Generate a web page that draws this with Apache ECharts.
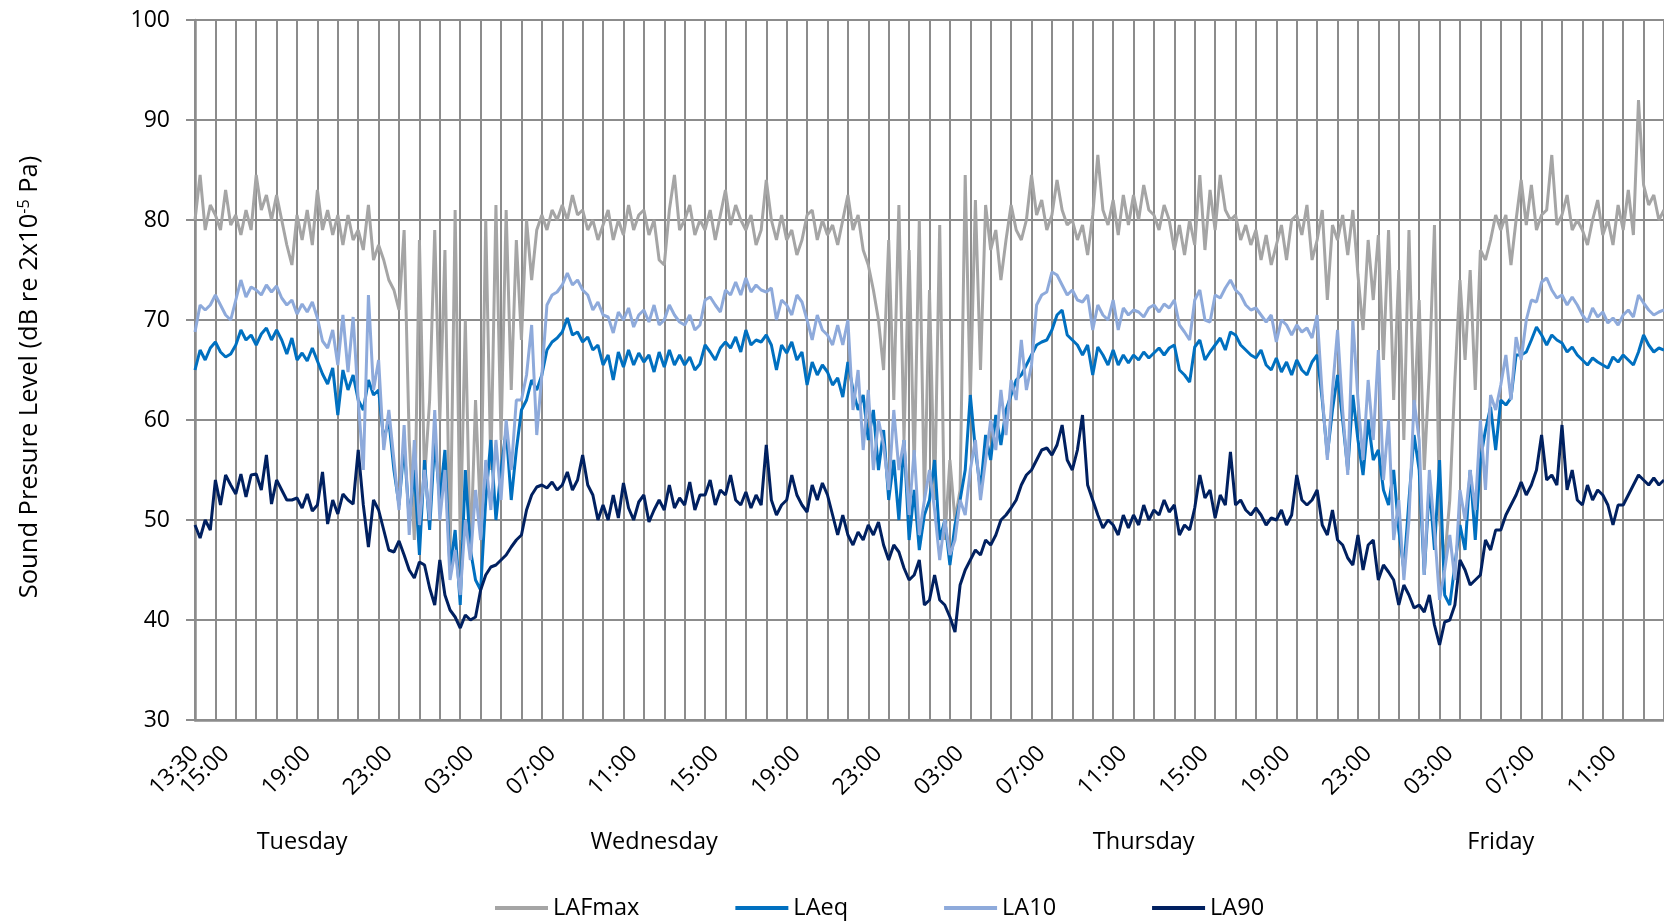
<!DOCTYPE html>
<html><head><meta charset="utf-8">
<script src="https://cdn.jsdelivr.net/npm/echarts@6/dist/echarts.min.js"></script>
<style>html,body{margin:0;padding:0;background:#fff}#chart{width:1664px;height:922px}</style>
</head><body><div id="chart"></div>
<script>
// ---- time axis: 15-minute samples from Tuesday 13:30 ----
const startDayIndex = 0;               // index into dayShort
const startMinutes = 13 * 60 + 30;     // 13:30
const stepMinutes = 15;
const pointCount = 289;
const dayShort = ['Tue', 'Wed', 'Thu', 'Fri'];

// tick labels shown on the time axis (the first category is labelled as well)
const tickLabels = ['03:00', '07:00', '11:00', '15:00', '19:00', '23:00'];
// day labels under the time axis
const dayLabels = ['Tuesday', 'Wednesday', 'Thursday', 'Friday'];
const dayLabelAt = ['Tue 18:45', 'Wed 12:00', 'Thu 12:00', 'Fri 05:30'];

const seriesNames = ['LAFmax', 'LAeq', 'LA10', 'LA90'];

const LAFmax = [
  80, 84.5, 79, 81.5,  80.5, 79, 83, 79.5,  80.5, 78.5, 81, 79,  84.5, 81, 82.5, 80,
  82.5, 80, 77.5, 75.5,  80.5, 78, 81, 77.5,  83, 79, 81, 78.5,  80.5, 77.5, 80.5, 78,
  79, 77, 81.5, 76,  77.5, 76, 74, 73,  71, 79, 58, 48,  78, 54, 62, 79,
  60, 77, 46, 81,  48, 70, 46, 62,  50, 80, 55, 81.5,  58, 81, 63, 78,
  68, 80, 74, 79,  80.5, 79, 81, 80,  81.5, 80, 82.5, 80.5,  81, 79, 80, 78,
  79.5, 81, 78, 80,  78.5, 81.5, 79, 80.5,  81, 78.5, 80, 76,  75.5, 81, 84.5, 79,
  80, 81.5, 78.5, 80,  79, 81, 78, 80.5,  83, 79.5, 81.5, 80,  79, 80.5, 77.5, 79,
  84, 80, 78, 80.5,  78, 79, 76.5, 78,  80.5, 81, 78, 80,  78.5, 79.5, 77.5, 80,
  82.5, 79, 80.5, 77,  75.5, 73, 70, 65,  78, 62, 81.5, 58,  77, 55, 80, 52,
  73, 52, 79.5, 48,  56, 50, 53, 84.5,  62, 82, 65, 81.5,  77, 79, 74, 78,
  81.5, 79, 78, 80,  84.5, 80.5, 82, 79,  80.5, 84, 81, 79.5,  80, 78, 79.5, 76.5,
  80.5, 86.5, 81, 79.5,  82, 78.5, 82.5, 79.5,  82.5, 80, 83.5, 81,  80.5, 79, 81.5, 80,
  77, 79.5, 76.5, 80,  77.5, 84.5, 77, 83,  79, 84.5, 81, 80,  80.5, 78, 79.5, 77.5,
  79, 76, 78.5, 75.5,  77.5, 79.5, 76, 80,  80.5, 78.5, 81.5, 76,  78, 81, 72, 79.5,
  78, 80.5, 76.5, 81,  74.5, 69, 78, 72,  78.5, 66, 79, 62,  75, 58, 79, 60,
  72, 55, 65, 79.5,  50, 46, 52, 64,  74, 66, 75, 63,  77, 76, 78, 80.5,
  79, 80.5, 75.5, 80,  84, 79.5, 83.5, 79,  80.5, 81, 86.5, 79.5,  80.5, 82.5, 79, 80,
  79, 77.5, 80, 82,  78.5, 80, 77.5, 81.5,  79, 83, 78.5, 92,  83.5, 81.5, 82.5, 80,
  81
];

const LAeq = [
  65, 67, 66, 67.2,  67.8, 66.8, 66.3, 66.6,  67.5, 69, 68, 68.5,  67.5, 68.6, 69.2, 68,
  69, 68, 66.6, 68.2,  66, 66.7, 65.9, 67.2,  65.9, 64.6, 63.6, 65.2,  60.5, 65, 63, 64.5,
  62, 61, 64, 62.5,  63, 58, 60, 55,  51.5, 57.5, 50, 55,  46.5, 56, 49, 58,
  52, 57, 45, 49,  41.5, 55, 47, 44,  43, 52, 58, 50,  55, 59, 52, 57,
  61, 62, 64, 63,  64.5, 67, 67.8, 68.2,  68.8, 70.2, 68.5, 68.8,  67.8, 68.3, 67, 67.5,
  65.5, 66.5, 64, 66.8,  65.3, 67, 65.5, 66.7,  65.8, 66.5, 64.8, 66.8,  65.3, 67, 65.5, 66.5,
  65.5, 66.3, 65, 65.6,  67.5, 66.8, 66, 67.2,  67.8, 67.2, 68.3, 66.8,  69, 67.5, 68, 67.8,
  68.5, 67.5, 65, 67.5,  66.7, 67.8, 66, 66.8,  63.5, 65.8, 64.5, 65.5,  64.8, 63.5, 64.2, 62.3,
  65.8, 63, 61, 62.5,  58, 61, 55, 59,  52, 56, 50, 58,  48, 53, 47, 50.5,
  52, 56, 48, 50,  45.5, 49.5, 52, 55,  62.5, 57, 53, 58.5,  56, 60.5, 57.5, 61,
  62.5, 64, 64.5, 65.5,  66.5, 67.5, 67.8, 68,  69, 70.5, 71, 68.5,  68, 67.5, 66.5, 67.5,
  64.5, 67.3, 66.5, 65.5,  67, 65.5, 66.5, 65.7,  66.5, 66, 66.8, 66.2,  66.7, 67.2, 66.5, 67.2,
  67.5, 65, 64.5, 63.8,  67.3, 68, 66, 66.8,  67.5, 68.2, 67, 68.8,  68.5, 67.5, 67, 66.5,
  66.2, 67, 65.5, 65,  66.2, 64.8, 65.8, 64.5,  66, 65, 64.5, 65.8,  66.5, 62, 56.5, 61,
  64.5, 60, 55, 62.5,  58, 54.5, 60, 56,  57, 53, 51.5, 55,  49, 45, 52, 58.5,
  55, 44.5, 53.5, 47,  56, 42.5, 41.5, 45.5,  49.5, 47, 55, 48,  56, 59, 61.3, 57,
  62, 61.5, 62.2, 66.5,  66.5, 66.8, 68, 69.3,  68.5, 67.5, 68.5, 68,  67.7, 66.8, 67.3, 66.5,
  66, 65.5, 66.2, 65.8,  65.5, 65.2, 66.3, 65.8,  66.5, 66, 65.5, 66.8,  68.5, 67.5, 66.8, 67.2,
  67
];

const LA10 = [
  68.8, 71.5, 71, 71.5,  72.5, 71.5, 70.5, 70,  72, 74, 72.3, 73.3,  73, 72.5, 73.5, 72.8,
  73.4, 72.2, 71.5, 72,  70.6, 71.6, 70.8, 71.8,  70.2, 67.9, 67.2, 69,  65.5, 70.5, 64.8, 70.3,
  62, 55, 72.5, 63,  66, 57, 61, 56,  51, 59.5, 48.5, 58,  49.5, 55, 50, 61,
  50, 55, 44, 47,  42.5, 50, 46, 53,  48, 56, 51, 58,  52, 60, 55, 62,
  62, 64.5, 69.5, 58.5,  64.5, 71.5, 72.5, 72.8,  73.5, 74.7, 73.5, 74,  73, 72.5, 71, 71.8,
  70.5, 70.3, 68.7, 70.8,  70, 71.2, 69.3, 70.5,  71, 69.8, 71.5, 69.5,  70, 71.5, 70.5, 69.8,
  69.5, 70.5, 69, 69.5,  72, 72.3, 71.5, 70.8,  73, 72.5, 73.8, 72.5,  74.2, 72.8, 73.5, 73,
  72.8, 73.2, 70, 72,  71.5, 70.5, 72.5, 71.8,  70, 68, 70.5, 69,  68.5, 67.5, 69.5, 67.5,
  70, 61, 65, 57,  63, 55, 60, 57.5,  53, 61, 55, 58,  50.5, 57, 48.5, 52,
  55, 51, 46, 50,  46.5, 48, 52, 50.5,  55, 58, 52, 56,  60, 57, 63, 58.5,
  64, 62, 68, 63,  65.5, 71.5, 72.5, 72.8,  74.8, 74.5, 73.5, 72.5,  73, 72, 71.8, 72.5,
  69, 71.5, 70.5, 70,  72, 69, 71.2, 70.5,  71, 70.8, 70.3, 71.2,  71.5, 70.8, 71.6, 71.2,
  72, 69.5, 68.8, 68,  72, 73, 70, 69.8,  72.5, 72.2, 73.2, 74,  73, 72.5, 71.5, 71,
  71.2, 70.5, 69.8, 70.5,  67.8, 70, 69.5, 68.5,  69.5, 68.8, 69.2, 68.2,  70.5, 62.5, 56, 63,
  69, 61, 54.5, 70,  62, 56, 64, 58,  67, 54, 60, 48,  52, 44, 50, 62,
  58, 44.5, 55, 49,  42, 45, 48.5, 44,  53, 50, 55, 51,  60, 53, 62.5, 61,
  63.5, 66.5, 62, 68.3,  66, 70, 72, 71.8,  73.8, 74.2, 73, 72.2,  72.5, 71.5, 72.3, 71.5,
  70.5, 69.8, 71.2, 70.3,  70.8, 69.7, 70.2, 69.5,  70.5, 71, 70.3, 72.5,  71.7, 71, 70.5, 70.8,
  71
];

const LA90 = [
  49.5, 48.2, 50, 49,  54, 51.5, 54.5, 53.5,  52.6, 54.6, 52.3, 54.5,  54.6, 53, 56.5, 51.6,
  54, 53, 52, 52,  52.2, 51.2, 52.6, 50.9,  51.5, 54.8, 49.6, 52,  50.6, 52.6, 52, 51.6,
  57, 51.5, 47.3, 52,  51, 49, 47, 46.8,  47.9, 46.5, 45, 44.2,  45.8, 45.5, 43.2, 41.5,
  46, 42.5, 41, 40.3,  39.2, 40.5, 40, 40.3,  43, 44.5, 45.3, 45.5,  46, 46.5, 47.3, 48,
  48.5, 51, 52.5, 53.3,  53.5, 53.2, 53.8, 53,  53.5, 54.8, 53, 54,  56.5, 53.5, 52.5, 50,
  51.5, 50, 52.5, 50.2,  53.7, 51.2, 50, 51.8,  52.5, 49.8, 51, 52,  51, 53.5, 51.2, 52.2,
  51.5, 53.8, 51, 52.5,  52.5, 54, 51.5, 53,  52.5, 54.5, 52, 51.5,  52.8, 51.2, 52.5, 51.5,
  57.5, 52, 50.5, 51.5,  52, 54.5, 52.5, 51.5,  50.8, 53.5, 52, 53.7,  52.5, 50.5, 48.5, 50.5,
  48.5, 47.5, 48.8, 48,  49.5, 48.5, 49.8, 47.5,  46, 47.5, 46.8, 45.2,  44, 44.5, 46, 41.5,
  42, 44.5, 42, 41.5,  40.3, 38.8, 43.5, 45,  46, 47, 46.5, 48,  47.5, 48.5, 50, 50.5,
  51.2, 52, 53.5, 54.5,  55, 56, 57, 57.2,  56.5, 57.5, 59.5, 56,  55, 57, 60.5, 53.5,
  52, 50.5, 49.2, 50,  49.5, 48.5, 50.5, 49.2,  50.5, 49.5, 51.5, 50,  51, 50.5, 52, 50.8,
  51.5, 48.5, 49.5, 49,  51.2, 54.5, 52.2, 53,  50.2, 52.5, 51.5, 56.8,  51.5, 52, 51, 50.5,
  51.2, 50.5, 49.5, 50.2,  50, 51, 49.5, 50.5,  54.5, 52, 51.5, 52,  53, 49.5, 48.5, 51,
  48, 47.5, 46.2, 45.5,  48.5, 45, 47.5, 48,  44, 45.5, 44.8, 44,  41.5, 43.5, 42.5, 41.2,
  41.5, 40.8, 42.5, 39.5,  37.5, 39.8, 40, 41.5,  46, 45, 43.5, 44,  44.5, 48, 47, 49,
  49, 50.5, 51.5, 52.5,  53.8, 52.5, 53.5, 55,  58.5, 54, 54.5, 53.5,  59.5, 53, 55, 52,
  51.5, 53.5, 52, 53,  52.5, 51.5, 49.5, 51.5,  51.5, 52.5, 53.5, 54.5,  54, 53.5, 54.2, 53.5,
  54
];

// ---- build category labels ("Tue 13:30", ...) ----
const pad = n => (n < 10 ? '0' : '') + n;
const categories = [];
for (let i = 0; i < pointCount; i++) {
  const total = startMinutes + i * stepMinutes;
  const day = startDayIndex + Math.floor(total / 1440);
  const m = total % 1440;
  categories.push(dayShort[day] + ' ' + pad(Math.floor(m / 60)) + ':' + pad(m % 60));
}

const FONT = 'Open Sans';
const GRIDC = '#8c8c8c';
const colors = { LAFmax: '#a5a5a5', LAeq: '#0070c0', LA10: '#8eaadb', LA90: '#002060' };
const values = { LAFmax, LAeq, LA10, LA90 };

const timeLabelStyle = { rotate: 45, margin: 30, fontFamily: FONT, fontSize: 23, color: '#000',
  hideOverlap: false, formatter: v => v.slice(4) };

const chart = echarts.init(document.getElementById('chart'), null, { renderer: 'canvas' });
chart.setOption({
  animation: false,
  backgroundColor: '#ffffff',
  textStyle: { fontFamily: FONT },
  grid: { left: 195, top: 20, width: 1475, height: 700, containLabel: false },
  legend: {
    data: seriesNames,
    left: 490, top: 891,
    icon: 'rect', itemWidth: 53, itemHeight: 4, itemGap: 96,
    textStyle: { fontFamily: FONT, fontSize: 23.5, color: '#000' }
  },
  xAxis: [
    {
      type: 'category', data: categories, boundaryGap: false,
      axisLine: { show: true, lineStyle: { color: GRIDC, width: 2.5 } },
      axisTick: { show: false },
      splitLine: { show: true, interval: (i) => i % 4 === 0, lineStyle: { color: GRIDC, width: 2 } },
      axisLabel: Object.assign({}, timeLabelStyle, {
        interval: (i, v) => i > 0 && tickLabels.indexOf(v.slice(4)) >= 0
      })
    },
    {
      // start-time label only
      type: 'category', data: categories, boundaryGap: false, position: 'bottom',
      axisLine: { show: false }, axisTick: { show: false }, splitLine: { show: false },
      axisLabel: Object.assign({}, timeLabelStyle, { showMinLabel: true, interval: (i) => i === 0 })
    },
    {
      type: 'category', data: categories, boundaryGap: false, position: 'bottom',
      axisLine: { show: false }, axisTick: { show: false }, splitLine: { show: false },
      axisLabel: {
        interval: (i, v) => dayLabelAt.indexOf(v) >= 0,
        formatter: v => dayLabels[dayLabelAt.indexOf(v)],
        margin: 110, fontFamily: FONT, fontSize: 23.5, color: '#000'
      }
    }
  ],
  yAxis: {
    type: 'value', min: 30, max: 100, interval: 10,
    axisLine: { show: true, lineStyle: { color: GRIDC, width: 2.5 } },
    axisTick: { show: true, length: 9, lineStyle: { color: GRIDC, width: 2 } },
    splitLine: { show: true, lineStyle: { color: GRIDC, width: 2 } },
    axisLabel: { margin: 25, fontFamily: FONT, fontSize: 23, color: '#000' },
    name: '{a|Sound Presure Level (dB re 2x10}{s|-5}{a| Pa)}',
    nameLocation: 'middle', nameGap: 152,
    nameTextStyle: {
      padding: [0, 14, 0, 0],
      rich: {
        a: { fontFamily: FONT, fontSize: 25.5, color: '#000' },
        s: { fontFamily: FONT, fontSize: 16, color: '#000', verticalAlign: 'top', padding: [0, 0, 11, 0] }
      }
    }
  },
  series: seriesNames.map(n => ({
    name: n, type: 'line', data: values[n], xAxisIndex: 0,
    showSymbol: false, symbol: 'none',
    lineStyle: { width: 3, color: colors[n] },
    itemStyle: { color: colors[n] },
    emphasis: { disabled: true }
  }))
});
</script></body></html>
